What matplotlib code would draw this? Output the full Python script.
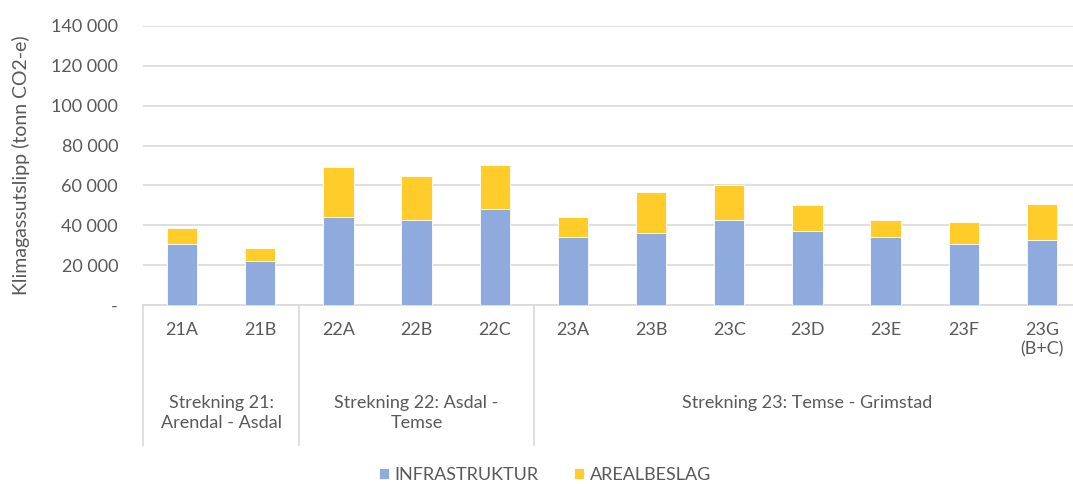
import matplotlib.pyplot as plt
import matplotlib.transforms as mtransforms
import numpy as np

# values (tonn CO2-e)
categories = ["21A", "21B", "22A", "22B", "22C", "23A", "23B", "23C", "23D", "23E", "23F", "23G\n(B+C)"]
infrastruktur = [30500, 22100, 44300, 42600, 48100, 34200, 36000, 42600, 37200, 34200, 30500, 32500]
arealbeslag = [8200, 6500, 24900, 22100, 22100, 10200, 20500, 17400, 12800, 8400, 11200, 18300]
groups = ["Strekning 21:\nArendal - Asdal", "Strekning 22: Asdal -\nTemse", "Strekning 23: Temse - Grimstad"]
group_sizes = [2, 3, 7]
yticks = [0, 20000, 40000, 60000, 80000, 100000, 120000, 140000]

BLUE = "#8FAADC"
GOLD = "#FFCC29"
GRID = "#D9D9D9"
TEXT = "#595959"
FS = 13

plt.rcParams["font.family"] = ["Lato", "DejaVu Sans"]

fig = plt.figure(figsize=(10.73, 4.84), dpi=100)
W, H = 1073, 484
left, right, top, bottom = 143, 1081, 26, 305
ax = fig.add_axes([left / W, 1 - bottom / H, (right - left) / W, (bottom - top) / H])

x = np.arange(len(categories))
ax.bar(x, infrastruktur, width=0.39, color=BLUE, edgecolor="white", linewidth=0.6,
       label="INFRASTRUKTUR", zorder=3)
ax.bar(x, arealbeslag, bottom=infrastruktur, width=0.39, color=GOLD, edgecolor="white",
       linewidth=0.6, label="AREALBESLAG", zorder=3)

ax.set_xlim(-0.5, len(categories) - 0.5)
ax.set_ylim(0, 140000)
ax.set_yticks(yticks)
ax.set_yticklabels(["-"] + [f"{v:,}".replace(",", " ") for v in yticks[1:]])
ax.tick_params(axis="y", length=0, pad=18, labelsize=FS, labelcolor=TEXT)
ax.grid(axis="y", color=GRID, linewidth=1.2, zorder=0)
for s in ["top", "right", "left"]:
    ax.spines[s].set_visible(False)
ax.spines["bottom"].set_color(GRID)
ax.spines["bottom"].set_linewidth(1.2)

ax.set_xticks(x)
ax.set_xticklabels(categories, va="top", linespacing=1.3)
ax.tick_params(axis="x", length=0, pad=12, labelsize=FS, labelcolor=TEXT)

ax.set_ylabel("Klimagassutslipp (tonn CO2-e)", fontsize=14, color=TEXT)
ax.yaxis.set_label_coords((21 - left) / (right - left), (bottom - 165) / (bottom - top))
ax.yaxis.label.set_verticalalignment("center")

# group level of the category axis
trans = mtransforms.blended_transform_factory(ax.transData, ax.transAxes)
sep_depth = -(445 - bottom) / (bottom - top)
edges = np.concatenate([[0], np.cumsum(group_sizes)]) - 0.5
for e in edges:
    ax.plot([e, e], [0, sep_depth], transform=trans, color=GRID, linewidth=1.2, clip_on=False)
for name, a, b in zip(groups, edges[:-1], edges[1:]):
    ax.text((a + b) / 2, -(395 - bottom) / (bottom - top), name, transform=trans,
            ha="center", va="top", fontsize=FS, color=TEXT, linespacing=1.3)

fig.legend(loc="center", bbox_to_anchor=(545 / W, 1 - 475 / H), ncol=2, frameon=False,
           fontsize=FS, labelcolor=TEXT, handlelength=0.55, handleheight=0.55,
           handletextpad=0.3, columnspacing=2.0)

fig.savefig("out.png", dpi=100)
